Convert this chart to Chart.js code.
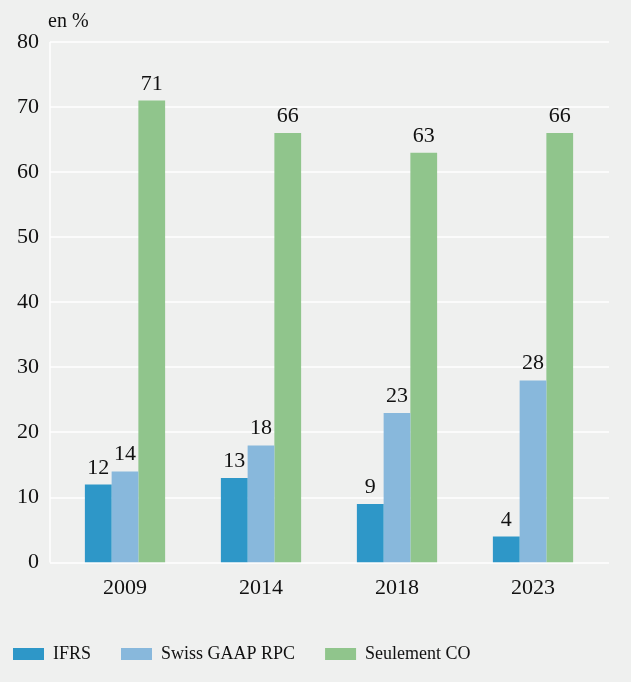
<!DOCTYPE html>
<html>
<head>
<meta charset="utf-8">
<script src="https://cdn.jsdelivr.net/npm/chart.js@4.4.1/dist/chart.umd.min.js"></script>
<style>
  html, body { margin: 0; padding: 0; background: #eff0ef; }
  #wrap { width: 631px; height: 682px; }
</style>
</head>
<body>
<div id="wrap"><canvas id="graphique"></canvas></div>
<script>
// Données
const annees      = ["2009", "2014", "2018", "2023"];
const ifrs        = [12, 13, 9, 4];
const swissGaap   = [14, 18, 23, 28];
const seulementCO = [71, 66, 63, 66];
const yTicks      = [0, 10, 20, 30, 40, 50, 60, 70, 80];

const POLICE = "'Liberation Serif', 'DejaVu Serif', serif";
const TEXTE  = "#111111";

// Grille blanche (un peu plus large que la zone des barres) + axe vertical
const grillePlugin = {
  id: "grille",
  beforeDatasetsDraw(chart) {
    const { ctx, scales: { y } } = chart;
    ctx.save();
    ctx.strokeStyle = "#ffffff";
    ctx.lineWidth = 1.5;
    yTicks.forEach(v => {
      const py = Math.round(y.getPixelForValue(v));
      ctx.beginPath();
      ctx.moveTo(50, py);
      ctx.lineTo(609, py);
      ctx.stroke();
    });
    ctx.beginPath();
    ctx.moveTo(50, y.getPixelForValue(80));
    ctx.lineTo(50, y.getPixelForValue(0));
    ctx.stroke();
    ctx.restore();
  }
};

// Valeurs au-dessus des barres + unité "en %"
const etiquettesPlugin = {
  id: "etiquettes",
  afterDatasetsDraw(chart) {
    const { ctx } = chart;
    ctx.save();
    ctx.fillStyle = TEXTE;
    ctx.font = "22px " + POLICE;
    ctx.textAlign = "center";
    ctx.textBaseline = "alphabetic";
    chart.data.datasets.forEach((ds, i) => {
      chart.getDatasetMeta(i).data.forEach((bar, j) => {
        ctx.fillText(String(ds.data[j]), bar.x, bar.y - 11);
      });
    });
    ctx.textAlign = "left";
    ctx.font = "20px " + POLICE;
    ctx.fillText("en %", 48, 27);
    ctx.restore();
  }
};

new Chart(document.getElementById("graphique"), {
  type: "bar",
  data: {
    labels: annees,
    datasets: [
      { label: "IFRS", data: ifrs, backgroundColor: "#2e97c8" },
      { label: "Swiss GAAP RPC", data: swissGaap, backgroundColor: "#88b8dc" },
      { label: "Seulement CO", data: seulementCO, backgroundColor: "#90c58c" }
    ]
  },
  options: {
    responsive: true,
    maintainAspectRatio: false,
    animation: false,
    layout: { padding: { top: 42, right: 30, left: -17, bottom: 9 } },
    datasets: { bar: { categoryPercentage: 0.59, barPercentage: 1 } },
    plugins: {
      legend: {
        position: "bottom",
        align: "start",
        labels: {
          boxWidth: 31,
          boxHeight: 12,
          padding: 30,
          color: TEXTE,
          font: { family: POLICE, size: 18 }
        }
      },
      tooltip: { enabled: false }
    },
    scales: {
      x: {
        afterFit(scale) { scale.height += 2; },
        grid: { display: false, drawTicks: false },
        border: { display: false },
        ticks: { color: TEXTE, font: { family: POLICE, size: 22 }, padding: 12 }
      },
      y: {
        min: 0,
        max: 80,
        afterFit(scale) { scale.width = 74; },
        grid: { display: false, drawTicks: false },
        border: { display: false },
        ticks: {
          stepSize: 10,
          color: TEXTE,
          font: { family: POLICE, size: 22 },
          padding: 18
        }
      }
    }
  },
  plugins: [grillePlugin, etiquettesPlugin]
});
</script>
</body>
</html>
